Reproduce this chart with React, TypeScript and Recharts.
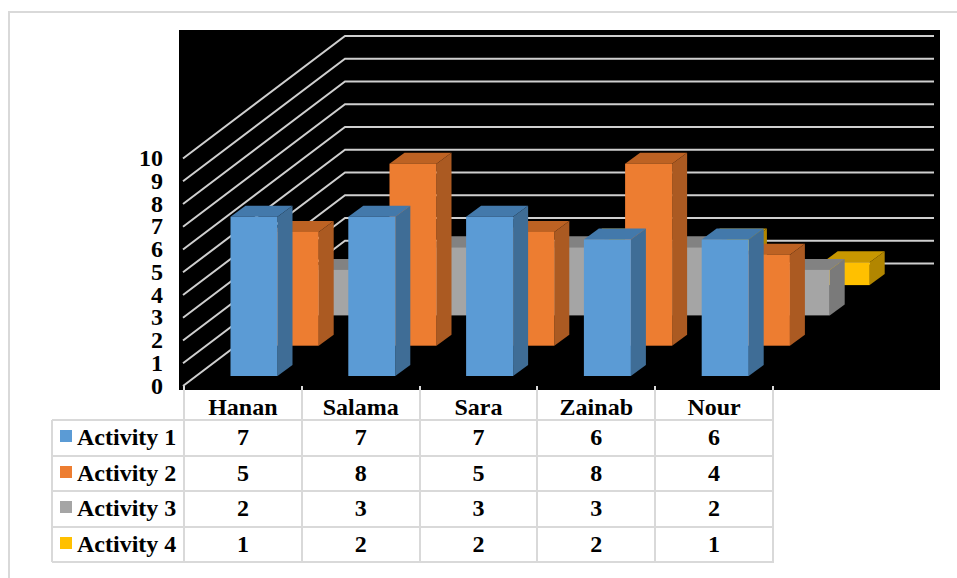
import React from 'react';
import { BarChart, Bar, XAxis, YAxis, CartesianGrid } from 'recharts';

const categories = ['Hanan', 'Salama', 'Sara', 'Zainab', 'Nour'];
const activity1 = [7, 7, 7, 6, 6];
const activity2 = [5, 8, 5, 8, 4];
const activity3 = [2, 3, 3, 3, 2];
const activity4 = [1, 2, 2, 2, 1];
const yTicks = [0, 1, 2, 3, 4, 5, 6, 7, 8, 9, 10];

const seriesNames = ['Activity 1', 'Activity 2', 'Activity 3', 'Activity 4'];
const seriesValues = [activity1, activity2, activity3, activity4];
const faceColors = [
  { front: '#5b9bd5', top: '#4379ab', side: '#3f6d96' },
  { front: '#ed7d31', top: '#bd6223', side: '#ab5a22' },
  { front: '#a5a5a5', top: '#828282', side: '#7a7a7a' },
  { front: '#ffc000', top: '#c89700', side: '#b28600' },
];

const rows = categories.map((name, i) => ({
  name,
  a1: activity1[i],
  a2: activity2[i],
  a3: activity3[i],
  a4: activity4[i],
}));

const FONT = '"Liberation Serif", serif';
const TEXT_SIZE = 24;
const GRID_COLOR = '#cfcfcf';
const TABLE_COLOR = '#d9d9d9';

// 3D projection: the floor recedes by this much from the front edge to the back wall.
const WALL_DX = 161;
const WALL_DY = -122.5;
// Each series sits on its own row of the floor.
const ROW_DX = [11.5, 52.7, 92.5, 132.5];
const ROW_DY = [-10, -40.3, -70.6, -100.9];
// Depth of a single prism.
const PRISM_DX = 15;
const PRISM_DY = -11;

const PLOT_LEFT = 184;
const PLOT_RIGHT = 773;
const PLOT_TOP = 158.5;
const PLOT_BOTTOM = 386;
const GRID_END = 934;
const W = 957;
const H = 578;
const AXIS_W = 40;
const AXIS_H = 34;

const prism = (rowIndex: number) => (props: any) => {
  const { x, y, width, height } = props;
  const c = faceColors[rowIndex];
  const px = x + ROW_DX[rowIndex];
  const py = y + ROW_DY[rowIndex];
  const r = px + width;
  const b = py + height;
  return (
    <g>
      <polygon
        points={`${px},${py} ${px + PRISM_DX},${py + PRISM_DY} ${r + PRISM_DX},${py + PRISM_DY} ${r},${py}`}
        fill={c.top}
      />
      <polygon
        points={`${r},${py} ${r + PRISM_DX},${py + PRISM_DY} ${r + PRISM_DX},${b + PRISM_DY} ${r},${b}`}
        fill={c.side}
      />
      <rect x={px} y={py} width={width} height={height} fill={c.front} />
    </g>
  );
};

// A horizontal grid line is drawn as its run along the side wall plus its run along the back wall.
const wallLine = (props: any) => {
  const y = props.y1;
  const corner = PLOT_LEFT + WALL_DX;
  return (
    <polyline
      key={y}
      points={`${PLOT_LEFT - 1},${y} ${corner},${y + WALL_DY} ${GRID_END},${y + WALL_DY}`}
      fill="none"
      stroke={GRID_COLOR}
      strokeWidth={2}
    />
  );
};

const colEdges = [184, 301.8, 419.6, 537.4, 655.2, 773];
const rowEdges = [420, 455.5, 491, 526.5, 561.5];
const TABLE_LEFT = 52;

const cellText: React.CSSProperties = {
  position: 'absolute',
  fontFamily: FONT,
  fontWeight: 700,
  fontSize: TEXT_SIZE,
  color: '#000',
  lineHeight: '35px',
  whiteSpace: 'nowrap',
};

const hLine = (left: number, top: number, width: number, key: string) => (
  <div key={key} style={{ position: 'absolute', left, top: top - 1, width, height: 2, background: TABLE_COLOR }} />
);
const vLine = (left: number, top: number, height: number, key: string) => (
  <div key={key} style={{ position: 'absolute', left: left - 1, top, width: 2, height, background: TABLE_COLOR }} />
);

export default function App() {
  return (
    <div style={{ position: 'absolute', left: 0, top: 0, width: W, height: H, background: '#fff', overflow: 'hidden' }}>
      {/* outer frame */}
      {hLine(8, 12, W - 8, 'frame-top')}
      {vLine(9, 12, H - 12, 'frame-left')}
      {/* dark chart backdrop */}
      <div style={{ position: 'absolute', left: 179, top: 30, width: 761, height: 360, background: '#000' }} />

      {/* data table rules */}
      {colEdges.map((x, i) => vLine(x, 386, rowEdges[rowEdges.length - 1] - 386, `col-${i}`))}
      {vLine(TABLE_LEFT, rowEdges[0], rowEdges[rowEdges.length - 1] - rowEdges[0], 'col-left')}
      {rowEdges.map((y, i) => hLine(TABLE_LEFT, y, colEdges[colEdges.length - 1] - TABLE_LEFT + 1, `row-${i}`))}

      {/* data table cells */}
      {seriesNames.map((name, s) => (
        <React.Fragment key={name}>
          <div
            style={{
              position: 'absolute',
              left: 60,
              top: rowEdges[s] + 10,
              width: 12,
              height: 12,
              background: faceColors[s].front,
            }}
          />
          <div style={{ ...cellText, left: 77, top: rowEdges[s] }}>{name}</div>
          {seriesValues[s].map((v, c) => (
            <div
              key={c}
              style={{
                ...cellText,
                left: colEdges[c],
                width: colEdges[c + 1] - colEdges[c],
                top: rowEdges[s],
                textAlign: 'center',
              }}
            >
              {v}
            </div>
          ))}
        </React.Fragment>
      ))}

      <div style={{ position: 'absolute', left: 0, top: 0 }}>
        <BarChart
          width={W}
          height={H}
          data={rows}
          barSize={47}
          barGap={-47}
          margin={{
            top: PLOT_TOP,
            bottom: H - PLOT_BOTTOM - AXIS_H,
            left: PLOT_LEFT - AXIS_W,
            right: W - PLOT_RIGHT,
          }}
        >
          <CartesianGrid vertical={false} horizontal={wallLine} />
          <XAxis
            dataKey="name"
            height={AXIS_H}
            interval={0}
            axisLine={false}
            tickLine={false}
            tickSize={0}
            tickMargin={12}
            tick={{ fontFamily: FONT, fontWeight: 700, fontSize: TEXT_SIZE, fill: '#000' }}
          />
          <YAxis
            width={AXIS_W}
            domain={[0, 10]}
            ticks={yTicks}
            interval={0}
            axisLine={false}
            tickLine={false}
            tickSize={0}
            tickMargin={21}
            tick={{ fontFamily: FONT, fontWeight: 700, fontSize: TEXT_SIZE, fill: '#000', dy: -1 }}
          />
          {/* painted back to front so nearer rows hide the ones behind */}
          <Bar dataKey="a4" isAnimationActive={false} shape={prism(3)} />
          <Bar dataKey="a3" isAnimationActive={false} shape={prism(2)} />
          <Bar dataKey="a2" isAnimationActive={false} shape={prism(1)} />
          <Bar dataKey="a1" isAnimationActive={false} shape={prism(0)} />
        </BarChart>
      </div>
    </div>
  );
}
